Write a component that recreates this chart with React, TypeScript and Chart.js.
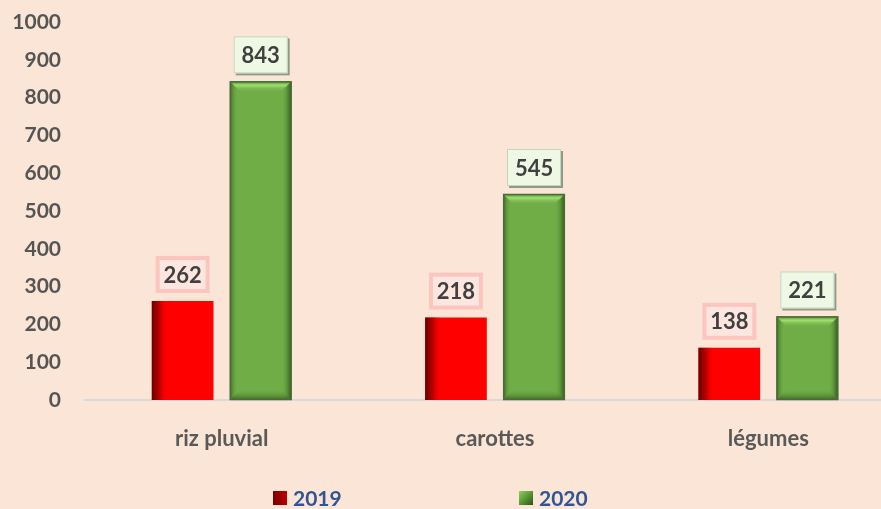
import React, { useEffect, useRef } from "react";
import { Chart, registerables } from "chart.js";

Chart.register(...registerables);

const categories = ["riz pluvial", "carottes", "légumes"];
const seriesLabels = ["2019", "2020"];
const values2019 = [262, 218, 138];
const values2020 = [843, 545, 221];
const yTicks = [0, 100, 200, 300, 400, 500, 600, 700, 800, 900, 1000];

const BG = "#FBE5D6";
const FONT = "Lato, 'Open Sans', sans-serif";

const barStylePlugin = {
  id: "barStyle",
  afterDatasetsDraw(chart: any) {
    const ctx = chart.ctx;
    chart.data.datasets.forEach((ds: any, di: number) => {
      const meta = chart.getDatasetMeta(di);
      meta.data.forEach((el: any) => {
        const { x, y, base, width } = el.getProps(["x", "y", "base", "width"], true);
        const l = x - width / 2;
        const r = x + width / 2;
        const h = base - y;
        ctx.save();
        if (di === 0) {
          const g = ctx.createLinearGradient(l, 0, l + 16, 0);
          g.addColorStop(0, "#6A0000");
          g.addColorStop(0.5, "#C00000");
          g.addColorStop(1, "rgba(255,0,0,0)");
          ctx.fillStyle = g;
          ctx.fillRect(l, y, 16, h);
        } else {
          const gl = ctx.createLinearGradient(l, 0, l + 8, 0);
          gl.addColorStop(0, "#3D6B25");
          gl.addColorStop(1, "rgba(112,173,71,0)");
          ctx.fillStyle = gl;
          ctx.fillRect(l, y, 8, h);
          const gr = ctx.createLinearGradient(r - 10, 0, r, 0);
          gr.addColorStop(0, "rgba(112,173,71,0)");
          gr.addColorStop(1, "#2C5219");
          ctx.fillStyle = gr;
          ctx.fillRect(r - 10, y, 10, h);
          const bv = Math.min(11, h / 3);
          const gt = ctx.createLinearGradient(0, y, 0, y + bv);
          gt.addColorStop(0, "#4E8A2E");
          gt.addColorStop(0.35, "#A0E070");
          gt.addColorStop(1, "rgba(112,173,71,0)");
          ctx.fillStyle = gt;
          ctx.beginPath();
          ctx.moveTo(l, y);
          ctx.lineTo(r, y);
          ctx.lineTo(r - bv, y + bv);
          ctx.lineTo(l + bv, y + bv);
          ctx.closePath();
          ctx.fill();
          const gb = ctx.createLinearGradient(0, base - bv, 0, base);
          gb.addColorStop(0, "rgba(112,173,71,0)");
          gb.addColorStop(1, "#3A6A22");
          ctx.fillStyle = gb;
          ctx.beginPath();
          ctx.moveTo(l, base);
          ctx.lineTo(r, base);
          ctx.lineTo(r - bv, base - bv);
          ctx.lineTo(l + bv, base - bv);
          ctx.closePath();
          ctx.fill();
          ctx.strokeStyle = "#4D6B3A";
          ctx.lineWidth = 1.5;
          ctx.strokeRect(l + 0.5, y + 0.5, width - 1, h - 1);
        }
        ctx.restore();
      });
    });
  },
};

const labelPlugin = {
  id: "boxLabels",
  afterDatasetsDraw(chart: any) {
    const ctx = chart.ctx;
    chart.data.datasets.forEach((ds: any, di: number) => {
      const meta = chart.getDatasetMeta(di);
      meta.data.forEach((el: any, i: number) => {
        const { x, y } = el.getProps(["x", "y"], true);
        const bw = 54;
        const bh = 37;
        const bx = x - bw / 2;
        const by = y - 8 - bh;
        ctx.save();
        if (di === 0) {
          ctx.fillStyle = "#FCE6DF";
          ctx.fillRect(bx, by, bw, bh);
          ctx.strokeStyle = "rgba(250,150,140,0.4)";
          ctx.lineWidth = 4;
          ctx.strokeRect(bx + 2, by + 2, bw - 4, bh - 4);
        } else {
          ctx.fillStyle = "#8E9A86";
          ctx.fillRect(bx + 2, by + 2, bw, bh);
          ctx.fillStyle = "#EEF8E4";
          ctx.fillRect(bx, by, bw, bh);
          ctx.strokeStyle = "#C8D4BE";
          ctx.lineWidth = 1;
          ctx.strokeRect(bx + 0.5, by + 0.5, bw - 1, bh - 1);
        }
        ctx.fillStyle = "#404040";
        ctx.font = `bold 22px ${FONT}`;
        ctx.textAlign = "center";
        ctx.textBaseline = "middle";
        ctx.fillText(String(ds.data[i]), x, by + bh / 2 + 1);
        ctx.restore();
      });
    });
  },
};

export default function App() {
  const ref = useRef<HTMLCanvasElement>(null);
  useEffect(() => {
    if (!ref.current) return;
    const chart = new Chart(ref.current, {
      type: "bar",
      data: {
        labels: categories,
        datasets: [
          {
            label: seriesLabels[0],
            data: values2019,
            backgroundColor: "#FF0000",
            borderWidth: 0,
            categoryPercentage: 0.571,
            barPercentage: 0.79,
          },
          {
            label: seriesLabels[1],
            data: values2020,
            backgroundColor: "#70AD47",
            borderWidth: 0,
            categoryPercentage: 0.571,
            barPercentage: 0.79,
          },
        ],
      },
      options: {
        responsive: false,
        animation: false,
        layout: { padding: { top: 22, right: 0, left: 0, bottom: 0 } },
        plugins: { legend: { display: false }, tooltip: { enabled: false } },
        scales: {
          x: {
            grid: { display: false },
            border: { display: true, color: "#D9D9D9", width: 2 },
            ticks: {
              color: "#595959",
              font: { family: FONT, size: 22, weight: "bold" },
              padding: 18,
            },
            afterFit(scale: any) {
              scale.height = 109;
            },
          },
          y: {
            min: 0,
            max: 1000,
            afterBuildTicks(scale: any) {
              scale.ticks = yTicks.map((v) => ({ value: v }));
            },
            grid: { display: false },
            border: { display: false },
            ticks: {
              color: "#555555",
              font: { family: FONT, size: 21, weight: "bold" },
              padding: 16,
              callback: (v: any) => String(v),
            },
            afterFit(scale: any) {
              scale.width = 85;
              scale.paddingTop = 0;
              scale.paddingBottom = 0;
            },
          },
        },
      },
      plugins: [barStylePlugin, labelPlugin],
    });
    return () => chart.destroy();
  }, []);

  const legendColors = [
    "linear-gradient(90deg, #7A0000, #C00000)",
    "linear-gradient(135deg, #8FD35E, #4E8A2E 60%, #2C5219)",
  ];
  const legendLeft = [273, 519];

  return (
    <div
      style={{
        position: "absolute",
        left: 0,
        top: 0,
        width: 881,
        height: 509,
        overflow: "hidden",
        background: BG,
      }}
    >
      <canvas ref={ref} width={905} height={509} style={{ display: "block" }} />
      {seriesLabels.map((s, i) => (
        <div
          key={s}
          style={{
            position: "absolute",
            left: legendLeft[i],
            top: 486,
            display: "flex",
            alignItems: "center",
            fontFamily: FONT,
            fontWeight: "bold",
            fontSize: 21,
            color: "#2F5597",
            lineHeight: "24px",
          }}
        >
          <span
            style={{
              display: "inline-block",
              width: 14,
              height: 14,
              background: legendColors[i],
              marginRight: 6,
            }}
          />
          {s}
        </div>
      ))}
    </div>
  );
}
